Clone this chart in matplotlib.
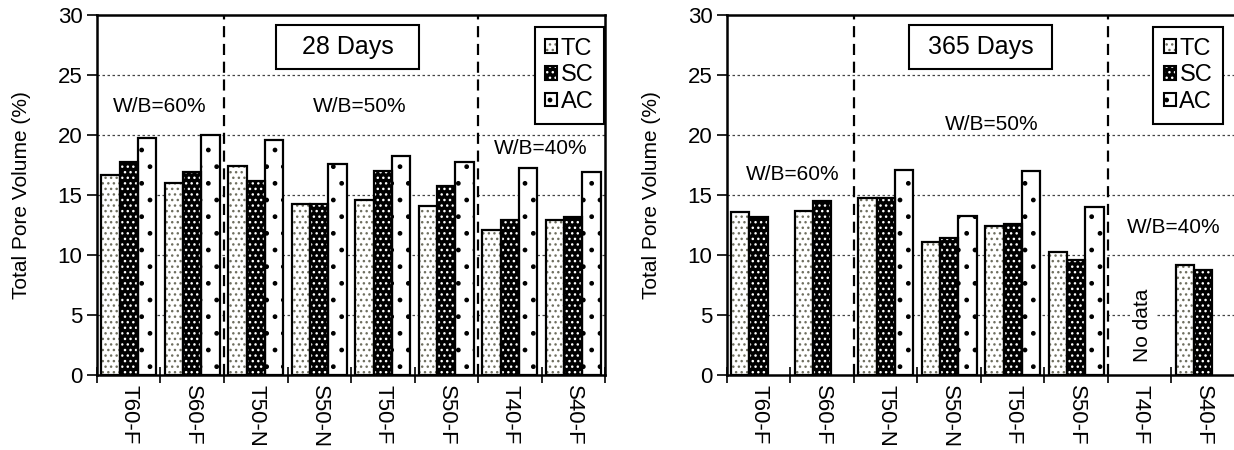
import numpy as np
import matplotlib.pyplot as plt
from matplotlib.patches import Patch, Rectangle
from matplotlib.legend_handler import HandlerTuple

plt.rcParams['font.family'] = ['Liberation Sans', 'DejaVu Sans']
plt.rcParams['hatch.linewidth'] = 1.0

categories = ["T60-F", "S60-F", "T50-N", "S50-N", "T50-F", "S50-F", "T40-F", "S40-F"]
series = ["TC", "SC", "AC"]

# 28 days
tc_28 = [16.7, 16.0, 17.4, 14.3, 14.6, 14.1, 12.1, 12.9]
sc_28 = [17.8, 16.9, 16.2, 14.3, 17.0, 15.8, 12.9, 13.2]
ac_28 = [19.8, 20.0, 19.6, 17.6, 18.3, 17.8, 17.3, 16.9]

# 365 days (nan = not measured)
tc_365 = [13.6, 13.7, 14.8, 11.1, 12.4, 10.3, np.nan, 9.2]
sc_365 = [13.2, 14.5, 14.8, 11.4, 12.6, 9.6, np.nan, 8.8]
ac_365 = [np.nan, np.nan, 17.1, 13.3, 17.0, 14.0, np.nan, np.nan]

# face, hatch colour, hatch pattern
styles = {
    "TC": ("white", "#6f6f60", "..."),
    "SC": ("black", "white", "..."),
    "AC": ("white", "black", "."),
}

FS = 15
TICK_FS = 16


def draw_bars(ax, values):
    x = np.arange(len(categories))
    w = 0.29
    for i, (name, vals) in enumerate(zip(series, values)):
        face, hcol, hatch = styles[name]
        pos = x + (i - 1) * w
        ax.bar(pos, vals, w, color=face, edgecolor=hcol, hatch=hatch,
               linewidth=0, zorder=2)
        ax.bar(pos, vals, w, fill=False, edgecolor="black",
               linewidth=1.6, zorder=3)


def style_axes(ax):
    n = len(categories)
    ax.set_xlim(-0.5, n - 0.5)
    ax.set_ylim(0, 30)
    ax.set_yticks(range(0, 31, 5))
    ax.set_xticks(np.arange(n + 1) - 0.5)
    ax.set_xticklabels([])
    ax.set_xticks(np.arange(n), minor=True)
    ax.set_xticklabels(categories, minor=True, rotation=-90, fontsize=TICK_FS)
    ax.tick_params(axis="x", which="major", direction="inout", length=12, width=1.2)
    ax.tick_params(axis="x", which="minor", length=0, pad=7)
    ax.tick_params(axis="y", direction="out", length=7, width=1.2, labelsize=TICK_FS)
    for s in ax.spines.values():
        s.set_linewidth(1.8)
    for yv in range(5, 30, 5):
        ax.axhline(yv, color="#444444", linestyle=(0, (2, 2)), linewidth=0.9, zorder=1)
    for xv in [1.5, 5.5]:
        ax.axvline(xv, color="black", linestyle=(0, (5, 3)), linewidth=1.6, zorder=4)
    ax.set_ylabel("Total Pore Volume (%)", fontsize=FS, labelpad=19)


def add_legend(ax, anchor):
    handles = []
    for name in series:
        face, hcol, hatch = styles[name]
        handles.append((Patch(facecolor=face, edgecolor=hcol, hatch=hatch, linewidth=0),
                        Patch(fill=False, edgecolor="black", linewidth=1.5)))
    leg = ax.legend(handles, series, handler_map={tuple: HandlerTuple(ndivide=1)},
                    loc="upper right", bbox_to_anchor=anchor, borderaxespad=0,
                    fontsize=17, handlelength=0.5, handleheight=0.5,
                    handletextpad=0.15, labelspacing=0.2, borderpad=0.45,
                    fancybox=False, framealpha=1, edgecolor="black")
    leg.get_frame().set_linewidth(1.5)
    leg.set_zorder(6)


def add_title_box(ax, label, x0, x1, y0, y1):
    ax.add_patch(Rectangle((x0, y0), x1 - x0, y1 - y0, facecolor="white",
                           edgecolor="black", linewidth=1.5, zorder=5))
    ax.text((x0 + x1) / 2, (y0 + y1) / 2, label, fontsize=18,
            ha="center", va="center", zorder=6)


fig = plt.figure(figsize=(12.34, 4.5), dpi=100)
ax1 = fig.add_axes([0.0786, 0.1656, 0.4117, 0.8011])
ax2 = fig.add_axes([0.5891, 0.1656, 0.4117, 0.8011])

# ==========================
# 28 DAYS
# ==========================
draw_bars(ax1, [tc_28, sc_28, ac_28])
style_axes(ax1)
add_legend(ax1, (0.998, 0.967))
add_title_box(ax1, "28 Days", 2.32, 4.57, 25.5, 29.2)
ax1.text(0.49, 22.4, "W/B=60%", fontsize=FS, ha="center", va="center", zorder=5)
ax1.text(3.64, 22.4, "W/B=50%", fontsize=FS, ha="center", va="center", zorder=5)
ax1.text(6.48, 18.9, "W/B=40%", fontsize=FS, ha="center", va="center", zorder=5)

# ==========================
# 365 DAYS
# ==========================
draw_bars(ax2, [tc_365, sc_365, ac_365])
style_axes(ax2)
add_legend(ax2, (0.976, 0.967))
add_title_box(ax2, "365 Days", 2.37, 4.62, 25.5, 29.2)
ax2.text(0.53, 16.7, "W/B=60%", fontsize=FS, ha="center", va="center", zorder=5)
ax2.text(3.67, 20.9, "W/B=50%", fontsize=FS, ha="center", va="center", zorder=5)
ax2.text(6.53, 12.3, "W/B=40%", fontsize=FS, ha="center", va="center", zorder=5)
ax2.text(6.05, 4.15, "No data", fontsize=FS, rotation=90, ha="center", va="center",
         zorder=5, bbox=dict(facecolor="white", edgecolor="none", pad=2))

fig.savefig("out.png", dpi=100)
